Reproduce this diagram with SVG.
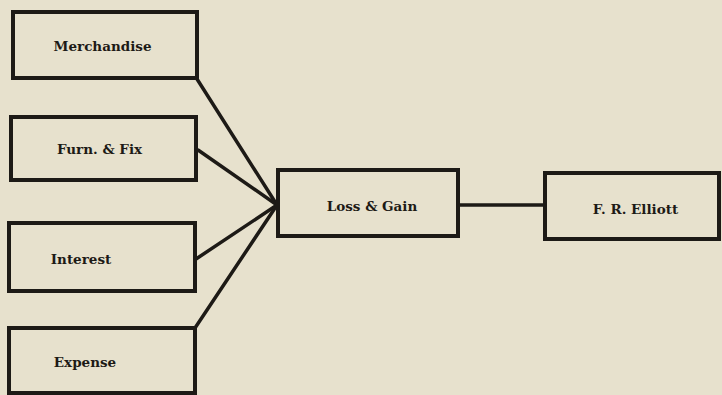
<svg xmlns="http://www.w3.org/2000/svg" width="722" height="395" viewBox="0 0 722 395">
  <style>
    .box { fill: none; stroke: #1d1a16; stroke-width: 4; }
    .link { fill: none; stroke: #1d1a16; stroke-width: 3.5; stroke-linecap: round; }
    .label { font-family: "DejaVu Serif", "Liberation Serif", serif; font-weight: bold; font-size: 13.5px; fill: #1d1a16; text-anchor: middle; }
  </style>
  <rect width="722" height="395" fill="#e7e1cd"/>

  <!-- connectors: four accounts close into Loss & Gain, which closes into the proprietor -->
  <g id="connectors">
    <line class="link" x1="197" y1="79" x2="277" y2="205"/>
    <line class="link" x1="198" y1="150" x2="277" y2="205"/>
    <line class="link" x1="196" y1="259" x2="277" y2="205"/>
    <line class="link" x1="195" y1="328" x2="277" y2="205"/>
    <line class="link" x1="458" y1="205" x2="545" y2="205"/>
  </g>

  <g id="merchandise">
    <rect class="box" x="13" y="12" width="184" height="66"/>
    <text class="label" x="102.5" y="51">Merchandise</text>
  </g>
  <g id="furn-fix">
    <rect class="box" x="11" y="117" width="185" height="63"/>
    <text class="label" x="99.5" y="154">Furn. &amp; Fix</text>
  </g>
  <g id="interest">
    <rect class="box" x="9" y="223" width="186" height="68"/>
    <text class="label" x="81" y="264">Interest</text>
  </g>
  <g id="expense">
    <rect class="box" x="9" y="328" width="186" height="65"/>
    <text class="label" x="85" y="367">Expense</text>
  </g>
  <g id="loss-gain">
    <rect class="box" x="278" y="170" width="180" height="66"/>
    <text class="label" x="372" y="211">Loss &amp; Gain</text>
  </g>
  <g id="elliott">
    <rect class="box" x="545" y="173" width="174" height="66"/>
    <text class="label" x="635.5" y="214">F. R. Elliott</text>
  </g>
</svg>
